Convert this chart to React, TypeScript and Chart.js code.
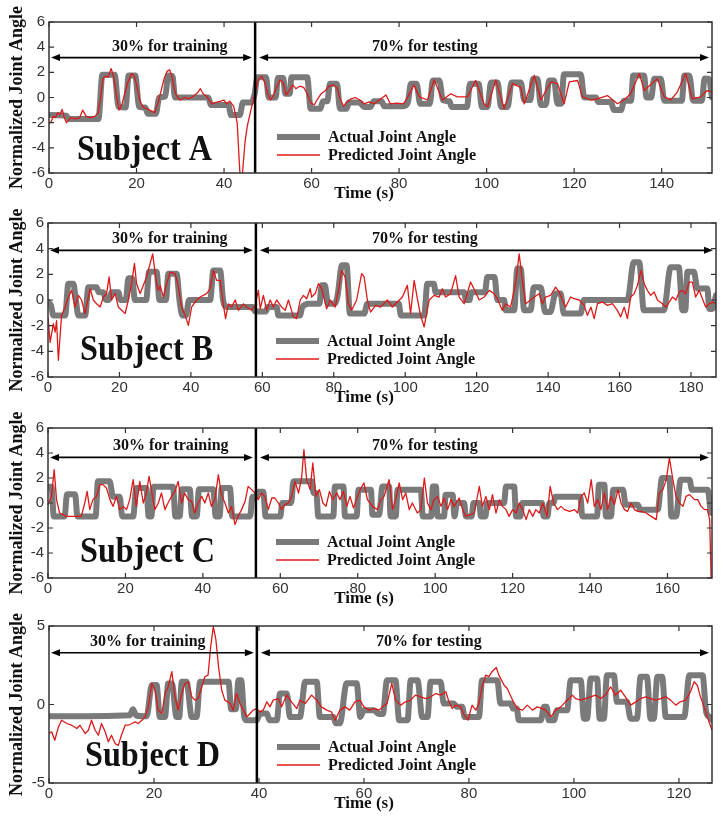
import React, { useEffect, useRef } from "react";
import { Chart, registerables } from "chart.js";

Chart.register(...registerables);

type Pt = [number, number];

const SERIES_LABELS = ["Actual Joint Angle", "Predicted Joint Angle"];
const TRAIN_TEXT = "30% for training";
const TEST_TEXT = "70% for testing";
const X_TITLE = "Time (s)";
const Y_TITLE = "Normalized Joint Angle";
const SUBJECTS = ["Subject A", "Subject B", "Subject C", "Subject D"];

const xTicksA = [0, 20, 40, 60, 80, 100, 120, 140];
const xTicksB = [0, 20, 40, 60, 80, 100, 120, 140, 160, 180];
const xTicksC = [0, 20, 40, 60, 80, 100, 120, 140, 160];
const xTicksD = [0, 20, 40, 60, 80, 100, 120];
const yTicks6 = [-6, -4, -2, 0, 2, 4, 6];
const yTicks5 = [-5, 0, 5];

const timeMax = [151.5, 187, 171.5, 126.3];
const splitTimes = [47.1, 58.2, 53.7, 39.6];
const arrowLevels = [3.17, 3.87, 3.65, 3.3];
const yRanges: Pt[] = [[-6, 6], [-6, 6], [-6, 6], [-5, 5]];

const aActual: Pt[] = [[0,-1.4],[4,-1.45],[4.5,-1.7],[11.3,-1.7],[12.2,1.8],[15,1.8],[15.9,-0.75],[17.5,-0.8],[18.2,1.75],[19.7,1.75],[20.6,-0.75],[22,-0.8],[22.6,-1.3],[24.4,-1.3],[25.2,0],[26.6,0.1],[27.2,1.75],[28.2,1.7],[28.8,0],[36.4,0],[37,-0.6],[41,-0.6],[41.6,-1.4],[43.6,-1.4],[44.3,-0.4],[46.2,-0.4],[47,0.3],[47.6,1.6],[49.6,1.6],[50.2,0],[51.8,0],[52.3,1.55],[53.5,1.55],[54,0.3],[55,0.3],[55.4,1.6],[59,1.6],[59.8,-0.9],[62,-0.9],[62.6,-0.3],[63.6,-0.3],[64.2,1.1],[65.8,1.1],[66.5,-0.9],[68,-0.9],[68.5,-0.4],[71,-0.4],[72,-0.75],[73.5,-0.75],[74.2,-0.3],[76,-0.3],[76.6,-0.7],[81,-0.7],[82,-0.4],[82.7,1.1],[84,1.1],[84.8,-0.5],[87,-0.5],[87.7,1.35],[89.2,1.35],[90,-0.2],[91.5,-0.3],[92,-0.75],[95.5,-0.75],[96.2,1.1],[98.2,1.1],[98.9,-0.75],[100.2,-0.75],[101,1.2],[102.5,1.2],[103.3,-0.75],[104.8,-0.75],[105.7,1.2],[107.8,1.2],[108.6,-0.2],[110,-0.2],[110.6,1.5],[111.6,1.5],[112.4,-0.6],[113.5,-0.6],[114.3,1.35],[115.4,1.35],[116.2,-0.5],[117,-0.5],[117.7,1.85],[121.5,1.85],[122.3,0],[125,0],[125.5,-0.35],[128.4,-0.35],[129.1,-1],[130.7,-1],[131.4,-0.25],[133,-0.25],[133.5,1.75],[136,1.75],[136.5,0],[137.6,0],[138.3,1.5],[139.8,1.5],[140.6,-0.25],[144.6,-0.25],[145.2,1.75],[146.3,1.75],[147.2,-0.25],[149.2,-0.25],[149.8,1.5],[150.8,1.5],[151.5,0]];

const aPredicted: Pt[] = [[0,-2.1],[0.5,-1.9],[1,-1.5],[1.5,-1.6],[2,-1.2],[2.5,-1.35],[3,-0.95],[3.5,-1.6],[4,-2.0],[4.5,-1.8],[5,-1.6],[6,-1.7],[7,-1.6],[7.7,-1.0],[8.5,-1.5],[9.5,-1.6],[10.5,-1.5],[11.2,-1.2],[11.8,0],[12.3,1.5],[13,1.7],[13.5,1.6],[14.2,2.3],[14.8,1.6],[15.4,0.2],[16,-1.0],[16.6,-0.6],[17.3,0.3],[18,1.2],[18.9,1.9],[19.5,1.7],[20,1.0],[20.8,-0.3],[21.6,-0.8],[22.5,-0.9],[23.5,-1.1],[24.2,-1.2],[25,-0.3],[25.6,0.5],[26.3,1.5],[27,2.1],[27.6,2.2],[28.2,1.5],[28.8,0.4],[29.4,0],[30,-0.2],[31,0],[32,-0.1],[33,0.1],[34,0.4],[34.6,0.7],[35.2,0.3],[36,0.1],[36.6,-0.2],[37.2,-0.5],[38,-0.4],[39,-0.3],[40,-0.2],[40.6,-0.5],[41.3,-0.3],[42.2,-0.7],[43,-2.0],[43.7,-6.5],[44.1,-6.5],[44.8,-3.5],[45.3,-2.3],[46,-1.2],[46.6,-0.3],[47.2,0.5],[47.8,1.4],[48.6,1.7],[49.3,1.2],[50,0.3],[50.6,-0.2],[51.2,0.1],[52,0.8],[52.8,1.4],[53.5,1.2],[54.2,0.2],[55,0.6],[55.7,1.0],[56.4,0.7],[57.3,0.9],[58.2,0.8],[59,0.3],[59.8,-0.4],[60.6,-0.6],[61.4,-0.1],[62.2,0.3],[63,0.5],[64,0.9],[65,1.0],[65.8,0.8],[66.5,-0.1],[67.3,-0.7],[68,-0.4],[69,-0.1],[70,0],[71,-0.2],[72,-0.5],[73.2,-0.35],[74.3,-0.5],[75.5,-0.2],[77,0.2],[78,-0.5],[79.5,-0.45],[81,-0.5],[82,0.05],[83.4,1.0],[84.6,0.05],[86.5,-0.2],[88,1.4],[89.9,-0.2],[91.8,0.3],[93.3,0.05],[95.6,0.05],[96.4,0.6],[97.5,1.35],[99.4,-0.5],[100.2,-0.75],[102.1,1.4],[104,-0.9],[105.9,1.1],[107.8,0.8],[108.6,-0.5],[110.9,1.75],[112.4,-0.2],[114.7,1.25],[116.2,1.1],[117.7,-0.5],[118.9,1.25],[120.8,1.35],[121.9,0.05],[123.8,-0.2],[125.3,-0.1],[127.6,0.15],[129.9,-0.5],[131.4,-0.2],[132.9,0.3],[134.9,1.9],[136,0.55],[139,1.5],[140.6,0.05],[142.1,-0.2],[143.6,0.45],[145.5,1.9],[147,-0.1],[148.9,0.05],[150.4,0.55],[151.5,0.45]];

const bActual: Pt[] = [[0,-0.15],[0.8,-0.4],[1.5,-1.2],[4.8,-1.2],[5.7,1.27],[7.1,1.27],[7.8,0],[8.5,-1.2],[10.4,-1.2],[11.3,1.0],[13.6,1.0],[14.2,0.6],[15.5,0.6],[16.2,0],[17,0],[17.8,0.6],[19.7,0.6],[20.3,0],[21.8,0],[22.5,1.7],[23.6,1.7],[24.3,0],[27.5,0],[28.3,2.2],[30.4,2.2],[31.2,0],[33,0],[33.7,2.05],[36,2.05],[36.8,0],[37.6,-1.2],[38.6,-1.2],[39.5,0],[45.4,0],[46.3,2.3],[48.2,2.3],[49,0],[50,-0.55],[57.3,-0.55],[58,-0.9],[61,-0.9],[61.5,-0.55],[64,-0.55],[64.5,-1.2],[70.5,-1.2],[71.2,-0.55],[73,-0.3],[76,-0.3],[76.6,1.15],[77.5,1.15],[78.4,-0.3],[80.2,-0.3],[81,0.23],[82.3,2.7],[83.6,2.7],[84.5,-1.06],[88.5,-1.06],[89.4,-0.3],[98.2,-0.3],[98.8,-1.2],[105.3,-1.2],[106.2,1.27],[108,1.27],[108.5,0.6],[116.5,0.6],[117,0],[118,0],[118.5,0.6],[122.3,0.6],[123,1.8],[125,1.8],[125.8,0],[127.7,0],[128.1,-0.8],[130.5,-0.8],[131.4,2.45],[132.3,2.45],[133.3,-0.8],[135.1,-0.8],[136,1.0],[137.9,1.0],[139.2,-0.94],[140.6,-0.94],[142.1,0.5],[143.5,0.5],[144.4,-1.06],[149.1,-1.06],[150,0],[162.2,0],[164,2.95],[165.5,2.95],[166.8,-0.8],[172.4,-0.8],[174.3,2.55],[176.6,2.55],[177.6,-0.8],[178.4,-0.8],[179,2.2],[180.8,2.2],[181.8,0.9],[184.6,0.9],[185.1,-0.7],[186,-0.7],[187,0.36]];

const bPredicted: Pt[] = [[0,-1.3],[0.6,-3.3],[1.5,-1.85],[2,-2.5],[2.4,-1.6],[2.9,-4.7],[3.8,-1.2],[4.8,-0.55],[5.7,0.23],[6.6,0.75],[7.6,-0.55],[8.5,0.36],[9.4,0],[10.4,-1.06],[11.3,0.23],[11.8,0.88],[12.7,0],[13.6,-0.3],[14.6,-0.55],[15.5,0.23],[16.4,0.5],[17.1,1.8],[17.8,0],[18.8,0.5],[19.7,-0.55],[20.6,-0.8],[21.6,-1.06],[22.5,0],[23.4,1.27],[24.2,2.85],[24.8,1.27],[25.8,0.5],[27.6,1.8],[29.3,3.6],[30.4,1.27],[30.9,0.75],[31.4,1.14],[32.3,0.23],[33.2,1.27],[34.2,2.18],[35.6,2.05],[36.5,1.0],[37.4,-0.55],[38.4,-1.2],[39.3,-1.97],[40.2,-0.55],[41.6,0],[42.6,0.23],[44.4,0.5],[45.4,0.88],[46.3,2.3],[47.2,1.53],[48.2,1.53],[48.9,0],[49.7,-1.45],[50.5,-0.3],[51.4,-0.55],[52.4,0],[53.3,-0.8],[54.7,-0.3],[55.6,-0.55],[57,-0.8],[58,-0.4],[58.9,0.75],[59.4,-0.68],[60.3,0.36],[61.2,-0.8],[62.2,0],[63.1,-0.55],[64,0],[65.4,-0.55],[66.4,-0.8],[67.3,0],[68.7,-1.3],[69.6,-1.45],[70.6,0],[71.5,0.36],[72.4,0.1],[73.4,0.88],[73.8,0.23],[74.8,0.5],[75.7,1.27],[76.6,0.88],[78,-0.68],[79,0],[80.4,-0.55],[81.3,0.75],[82.2,2.3],[83.2,1.8],[84.1,-0.3],[85,-0.8],[86.4,0],[87.8,2.05],[88.5,1.8],[89.4,0],[90.3,-0.94],[91.7,-0.42],[93.1,-0.55],[95,0],[96.4,-0.55],[97.8,-0.16],[99.2,0.23],[100.6,1.14],[101.5,-1.06],[102.5,1.53],[103.4,0.1],[104.3,-1.19],[105.3,-2.1],[106.7,0],[108.1,0.36],[109.5,0.23],[110.4,0.88],[111.3,0.23],[112.7,0.49],[114.1,1.9],[115.1,0.23],[116.5,-0.29],[118.3,1.4],[119.7,0.62],[120.7,0],[122.1,0.23],[123.5,0.75],[124.9,0.49],[125.8,0.1],[127.2,-0.81],[128.1,-0.29],[129.5,-0.55],[130.9,1.27],[131.9,3.6],[132.8,1.53],[133.7,-0.29],[135.1,0],[136.1,0.23],[137.5,0.49],[138.4,-0.29],[139.3,0.23],[140.7,0.36],[142.1,1.0],[143.1,0.62],[144,0],[144.9,-0.55],[146.3,0.23],[147.3,0.1],[148.7,0],[150.1,-0.42],[151,-1.19],[152,-0.55],[152.9,-1.45],[153.8,-0.29],[155.2,-0.16],[156.6,-0.42],[158,-0.29],[159.4,-0.81],[160.3,-1.32],[161.3,-0.55],[162.2,-1.45],[163.1,0.23],[164.1,0.49],[165,1.14],[166,2.31],[166.9,1.27],[167.8,0.75],[168.7,0.36],[169.7,0.62],[170.6,0],[172,-0.29],[173,-0.55],[173.9,-0.16],[174.8,0.23],[175.8,0],[176.7,0.62],[177.6,0.75],[178.5,0.49],[179.5,1.4],[180.4,1.4],[181.3,0.23],[182.3,0.75],[183.2,0.1],[184.1,-0.55],[185.1,-0.29],[186,-0.16],[187,-0.29]];

const cActual: Pt[] = [[0,1.3],[0.9,1.3],[1.5,-1.07],[4.3,-1.07],[4.9,0.7],[7,0.7],[7.6,-1.07],[12.3,-1.07],[12.9,1.75],[15.9,1.75],[16.8,0.5],[18.5,0.5],[19.2,-1.07],[22,-1.07],[22.8,1.2],[25.4,1.2],[26,-1.07],[26.7,-1.07],[27.3,1.3],[32.3,1.3],[32.9,-1.07],[34,-1.07],[34.6,1.1],[36.6,1.1],[37.2,-1.07],[38.4,-1.07],[39,1.1],[42.7,1.1],[43.3,-1.07],[44.3,-1.07],[44.9,1.2],[47,1.2],[47.6,-1.07],[52.2,-1.07],[52.8,0.5],[53.6,0.5],[54.3,0.9],[55.6,0.9],[56.2,-1.07],[60,-1.07],[60.5,0],[62.8,0],[63.4,1.75],[68.1,1.75],[68.6,0.8],[69.3,0.8],[69.8,-1.07],[73.7,-1.07],[74.1,1.33],[76.3,1.33],[76.7,-1.07],[79.7,-1.07],[80.2,1.07],[83.4,1.07],[83.8,-0.93],[85.5,-0.93],[86.4,1.33],[88.1,1.33],[88.5,-1.07],[89.8,-1.07],[90.3,1.07],[96.3,1.07],[96.8,-1.07],[99,-1.07],[99.4,1.33],[100.2,1.33],[100.6,-1.07],[102.3,-1.07],[102.7,0.67],[104.5,0.67],[105,-1.07],[105.6,0],[107.5,0],[107.9,-1.07],[109.4,-1.07],[109.9,0],[111.4,0],[111.8,-1.07],[113,-1.07],[113.4,0],[117.8,0],[118.3,1.33],[120.4,1.33],[120.9,-1.07],[122,-1.07],[122.5,0],[127.6,0],[128,-1.07],[129,-1.07],[129.5,0],[130.6,0],[131,0.5],[137.5,0.5],[138,-1.07],[141.8,-1.07],[142.3,1.47],[143.7,1.47],[144.1,-1.07],[145.4,-1.07],[146,1.07],[148.5,1.07],[149.2,-0.13],[152.3,-0.13],[153,-0.53],[157.5,-0.53],[158.6,2.0],[160.5,2.0],[161,-1.07],[162.2,-1.07],[163.4,1.87],[165.7,1.87],[166.3,1.07],[170.4,1.07],[171.3,-0.8],[171.6,-0.8]];

const cPredicted: Pt[] = [[0,-0.13],[0.9,0.53],[1.6,2.67],[2.2,0.27],[3,-0.8],[3.9,-0.93],[4.7,-1.07],[7.3,-1.07],[8.6,-1.07],[9.5,0],[10.1,0.93],[10.8,-0.53],[11.6,0.27],[12.5,0.53],[13.4,1.47],[14.2,1.47],[15.1,1.2],[16,0.27],[16.8,-0.27],[17.7,0.53],[18.5,-0.53],[19.4,-0.27],[20.3,-0.53],[21.1,0.27],[22,1.87],[22.8,-0.27],[23.7,1.73],[24.6,0],[25.4,0.8],[26.1,2.13],[26.7,1.07],[27.6,-0.53],[28.5,0],[29.3,0.8],[30.2,-0.53],[31,0],[31.9,0.53],[32.8,0.93],[33.6,1.73],[34.5,0],[35.3,0.8],[36.2,0.27],[37.1,0.13],[37.9,-0.8],[38.8,0],[39.7,0.53],[40.5,0],[41.4,0.8],[42.2,-0.27],[43.1,0.27],[44,2.27],[44.8,0.67],[45.7,0],[46.6,-0.8],[47.4,-0.27],[48.3,-1.73],[49.1,-1.07],[50,-0.53],[50.9,0.13],[51.7,1.33],[52.6,1.07],[53.5,0.8],[54.3,0.27],[55.2,0.8],[56,0.53],[56.9,-0.53],[57.8,0.4],[58.6,0.4],[59.5,0],[60.3,-0.53],[61.2,-0.13],[62.1,0],[62.9,0.53],[63.8,1.73],[64.7,0.8],[65.5,2.0],[66.1,4.27],[66.8,1.87],[67.7,1.07],[68.4,3.2],[69.2,0.53],[70.1,1.07],[71,0],[71.8,-0.27],[72.7,0.93],[73.5,0.27],[74.6,0.8],[75.4,0.27],[76.3,0.93],[77.2,-0.27],[78,0.53],[78.9,-0.4],[79.7,0.27],[80.6,1.07],[81.6,1.6],[82.5,0.27],[83.8,-0.27],[85.1,-0.53],[86,0.27],[86.8,0.53],[88.1,1.87],[89,-0.53],[89.8,0.27],[90.7,1.6],[91.6,0.27],[92.4,0.8],[93.3,-0.53],[94.1,0],[95.4,-0.8],[96.3,-0.53],[97.2,2.0],[98,0],[98.9,-0.53],[99.7,0.27],[100.6,0.53],[101.5,-0.27],[102.3,0.4],[103.2,-0.53],[104.1,0.27],[104.9,-0.27],[106.2,0.4],[107.1,-0.53],[107.9,-1.07],[109.2,-0.93],[110.1,-0.8],[111.4,1.33],[112.2,-0.27],[113.1,0.53],[114,-0.53],[114.8,0.67],[115.7,-0.8],[116.6,0.27],[117.4,-0.27],[118.3,-0.53],[119.1,-1.07],[120,-0.53],[120.9,-0.8],[121.7,0],[122.6,-0.53],[123.5,-1.33],[124.3,-0.53],[125.2,-1.07],[126,-0.53],[126.9,-0.8],[127.8,0],[128.9,-1.07],[129.7,1.33],[130.6,0],[131.6,-0.53],[132.5,-0.27],[133.4,-0.53],[134.7,-0.67],[136,-0.53],[136.8,-0.8],[137.7,0.53],[138.5,0.8],[139.4,0],[140.3,1.87],[141.1,-0.27],[142,0.27],[142.8,-0.53],[143.7,0.8],[144.6,-0.53],[145.4,0.53],[146.3,-0.13],[147.2,1.07],[148,0],[148.9,-0.53],[149.7,-0.67],[150.6,0],[151.5,-0.53],[152.3,-0.67],[153.2,-0.67],[154.5,-0.8],[155.8,-1.07],[157.1,-1.33],[157.9,0.8],[158.8,1.07],[159.7,1.87],[160.5,3.6],[161.4,1.87],[162.2,0.53],[163.1,0],[164,-0.27],[164.8,0.53],[165.7,0.67],[167,0.27],[167.8,0.27],[168.7,-0.27],[169.6,-0.53],[170.3,-0.53],[170.9,-1.33],[171.3,-6.5]];

const dActual: Pt[] = [[0,-0.75],[15.4,-0.68],[16,-0.3],[16.6,-0.7],[18.6,-0.75],[19.6,1.25],[20.5,1.25],[21.1,-0.8],[22.1,-0.8],[22.7,1.34],[23.4,1.34],[24.3,-0.8],[24.8,-0.8],[25.3,1.45],[26.2,1.45],[27.2,-0.8],[28.1,-0.8],[28.8,1.45],[34.2,1.45],[34.7,-0.3],[35.6,-0.3],[36.1,1.55],[36.6,1.55],[37.2,-0.8],[37.6,-1.0],[39.6,-1.0],[40.2,-0.57],[41.5,-0.57],[42,-1.0],[43.4,-1.0],[44,0.7],[45.3,0.7],[45.9,-0.8],[47.8,-0.8],[48.8,1.45],[51,1.45],[51.6,-0.8],[54.2,-0.8],[54.6,-1.2],[55.4,-1.2],[56.7,1.35],[58.6,1.35],[59.3,-0.8],[60,-0.36],[61.9,-0.36],[62.8,-0.6],[63.6,-0.6],[64.4,1.55],[66,1.55],[66.7,-1.0],[68.3,-1.0],[68.9,1.55],[70.2,1.55],[71.1,-0.8],[72.1,-0.8],[72.7,1.45],[74.6,1.45],[75.2,0.06],[77.1,0.06],[77.7,-0.15],[78.7,-0.15],[79.2,-0.8],[81.9,-0.8],[82.5,1.55],[85.4,1.55],[86,0.06],[88,0.06],[88.4,-0.26],[89.1,-0.26],[89.5,-1.0],[93.7,-1.0],[94.3,-0.15],[94.8,-0.15],[95.2,-1.0],[96.2,-1.0],[96.8,-0.36],[98.7,-0.36],[99.4,1.55],[101.3,1.55],[101.9,-0.9],[102.5,-0.9],[103.2,1.66],[104.4,1.66],[104.9,-0.9],[105.7,-0.9],[106.3,1.87],[107.6,1.87],[108.2,0.17],[110.1,0.17],[110.8,-0.9],[112,-0.9],[112.7,1.77],[113.9,1.77],[114.6,-0.9],[115.2,-0.9],[115.9,1.77],[116.8,1.77],[117.5,-0.8],[121,-0.8],[122,1.87],[124.5,1.87],[125.2,-0.5],[125.9,-0.8],[126.3,-1.0]];

const dPredicted: Pt[] = [[0,-1.85],[0.5,-1.74],[1.1,-2.28],[1.8,-1.43],[2.4,-1.0],[3.4,-1.21],[4.3,-1.32],[5.3,-1.53],[5.9,-1.32],[6.9,-1.85],[7.5,-1.64],[8.1,-1.0],[8.8,-1.64],[9.4,-1.96],[10,-1.21],[10.7,-1.74],[11.3,-2.38],[11.9,-1.96],[12.6,-2.49],[13.2,-2.6],[13.8,-1.96],[14.5,-1.32],[15.1,-1.32],[15.8,-1.21],[16.4,-1.11],[17,-1.21],[17.7,-1.0],[18.3,-0.79],[18.9,-0.15],[19.6,1.34],[20.2,0.91],[20.8,-0.36],[21.5,-0.57],[22.1,0.7],[22.7,1.13],[23.4,2.09],[24,0.49],[24.6,-0.36],[25.3,0.7],[25.9,1.34],[26.5,1.45],[27.2,0.49],[27.8,0.28],[28.4,0.38],[29.1,1.13],[29.7,1.77],[30.3,1.87],[30.8,3.68],[31.3,4.96],[31.8,4.11],[32.3,2.4],[32.9,0.91],[33.5,0.28],[34.5,0.06],[35.1,-0.36],[35.7,0.7],[36.4,0.06],[37,-0.36],[37.7,-0.79],[38.3,-0.57],[38.9,-0.36],[39.6,-0.26],[40.2,-0.47],[40.8,-0.36],[41.5,0.17],[42.1,-0.15],[42.7,0.28],[43.7,0.38],[44.3,-0.15],[45.3,0.6],[46.2,0.17],[47.2,-0.26],[47.8,0.28],[48.8,0.06],[50,0.6],[51,0.28],[51.9,-0.15],[52.9,-0.36],[53.8,-0.47],[54.5,-1.0],[55.4,-0.36],[56.4,-0.15],[57.3,-0.36],[58.3,0.17],[59.2,0.28],[60,-0.15],[61,-0.36],[61.9,-0.26],[62.9,-0.36],[63.5,-0.15],[64.4,0.06],[65.3,1.34],[66,0.28],[67,-0.04],[67.9,0.17],[68.9,0.28],[69.8,0.6],[70.8,0.49],[71.8,0.38],[72.7,0.49],[73.7,0.7],[74.6,0.6],[75.6,0.81],[76.2,0.17],[76.8,-0.26],[77.5,-0.04],[78.4,-0.15],[79.1,-0.68],[79.8,-1.0],[80.6,-0.04],[81.3,-0.36],[81.9,0.06],[82.5,1.13],[83.2,1.87],[83.8,1.77],[84.4,2.09],[85.2,2.36],[85.7,1.87],[86.7,1.23],[87.3,1.02],[88.3,0.28],[89.2,-0.26],[90.2,-0.36],[91.1,-0.04],[92.1,-0.36],[93,-0.15],[94,-0.26],[94.6,-0.36],[95.6,-0.79],[96.5,-0.36],[97.5,-0.15],[98.4,0.17],[99.1,0.38],[99.7,0.6],[100.3,0.38],[101.3,0.28],[102.2,0.38],[103.2,0.49],[104.1,0.6],[105.1,0.38],[106,0.6],[107,1.13],[107.9,0.6],[108.9,0.91],[109.8,0.49],[110.8,-0.04],[111.8,0.17],[112.7,0.38],[113.7,0.49],[114.6,0.38],[115.6,0.28],[116.5,0.38],[117.5,0.49],[118.4,0.28],[119.4,-0.04],[120.3,0.17],[121.3,0.28],[122.2,0.81],[122.9,1.45],[123.5,1.23],[124.1,0.49],[124.8,-0.15],[125.4,-0.79],[126.3,-1.64]];

const actualSeries = [aActual, bActual, cActual, dActual];
const predictedSeries = [aPredicted, bPredicted, cPredicted, dPredicted];
const xTickSets = [xTicksA, xTicksB, xTicksC, xTicksD];
const yTickSets = [yTicks6, yTicks6, yTicks6, yTicks5];

const GRAY = "#7a7a7a";
const RED = "#dc1a1a";
const INK = "#111111";
const FRAME = "#333333";
const SERIF = '"Liberation Serif", "Times New Roman", serif';
const SANS = '"Liberation Sans", Arial, sans-serif';

// page layout of each panel's plotting area (pixels)
const layouts = [
  { left: 49, right: 712, top: 22, bottom: 173, trainDx: 63, testDx: 323, subjDx: 28, subjDy: 13 },
  { left: 48, right: 716, top: 223, bottom: 377, trainDx: 64, testDx: 324, subjDx: 32, subjDy: 17 },
  { left: 48, right: 712, top: 428, bottom: 578, trainDx: 65, testDx: 324, subjDx: 32, subjDy: 16 },
  { left: 49, right: 712, top: 626, bottom: 783, trainDx: 41, testDx: 327, subjDx: 36, subjDy: 17 },
];
const PAD_TOP = 24;
const XAXIS_H = 36;
const PAGE_W = 728;

function doubleArrow(ctx: CanvasRenderingContext2D, x1: number, x2: number, y: number) {
  const hl = 9, hw = 3.5;
  ctx.beginPath();
  ctx.moveTo(x1 + hl - 1, y);
  ctx.lineTo(x2 - hl + 1, y);
  ctx.stroke();
  ctx.beginPath();
  ctx.moveTo(x1, y);
  ctx.lineTo(x1 + hl, y - hw);
  ctx.lineTo(x1 + hl, y + hw);
  ctx.closePath();
  ctx.fill();
  ctx.beginPath();
  ctx.moveTo(x2, y);
  ctx.lineTo(x2 - hl, y - hw);
  ctx.lineTo(x2 - hl, y + hw);
  ctx.closePath();
  ctx.fill();
}

const decorPlugin = {
  id: "decor",
  afterDatasetsDraw(chart: any, _args: any, opts: any) {
    const { ctx, chartArea: ca, scales } = chart;
    const xs = scales.x;
    const ys = scales.y;
    ctx.save();

    // split line
    const sx = xs.getPixelForValue(opts.split);
    ctx.strokeStyle = "#000";
    ctx.lineWidth = 2.5;
    ctx.beginPath();
    ctx.moveTo(sx, ca.top);
    ctx.lineTo(sx, ca.bottom);
    ctx.stroke();

    // arrows
    const ay = ys.getPixelForValue(opts.arrowAt);
    ctx.strokeStyle = "#000";
    ctx.fillStyle = "#000";
    ctx.lineWidth = 1.6;
    doubleArrow(ctx, ca.left + 2, sx - 3, ay);
    doubleArrow(ctx, sx + 4, ca.right - 3, ay);

    // arrow labels
    ctx.fillStyle = INK;
    ctx.font = `bold 16px ${SERIF}`;
    ctx.textAlign = "left";
    ctx.textBaseline = "alphabetic";
    ctx.fillText(TRAIN_TEXT, ca.left + opts.trainDx, ay - 7);
    ctx.fillText(TEST_TEXT, ca.left + opts.testDx, ay - 7);

    // subject name
    ctx.save();
    ctx.font = `bold 35px ${SERIF}`;
    ctx.translate(ca.left + opts.subjDx, ca.bottom - opts.subjDy);
    ctx.scale(0.92, 1);
    ctx.fillText(opts.subject, 0, 0);
    ctx.restore();

    // legend
    const lx = ca.left + 228;
    chart.data.datasets.forEach((ds: any, i: number) => {
      const ly = ca.bottom - 36 + i * 18;
      ctx.strokeStyle = ds.borderColor;
      ctx.lineWidth = i === 0 ? 6 : 1.6;
      ctx.lineCap = "butt";
      ctx.beginPath();
      ctx.moveTo(lx, ly);
      ctx.lineTo(lx + 43, ly);
      ctx.stroke();
      ctx.fillStyle = INK;
      ctx.font = `bold 16px ${SERIF}`;
      ctx.textBaseline = "middle";
      ctx.fillText(ds.label, lx + 51, ly + 1);
    });

    // frame
    ctx.strokeStyle = FRAME;
    ctx.lineWidth = 1.5;
    ctx.strokeRect(ca.left, ca.top, ca.right - ca.left, ca.bottom - ca.top);

    // inward ticks on all sides
    ctx.lineWidth = 1.2;
    const tl = 5;
    xs.ticks.forEach((t: any) => {
      const px = xs.getPixelForValue(t.value);
      ctx.beginPath();
      ctx.moveTo(px, ca.bottom);
      ctx.lineTo(px, ca.bottom - tl);
      ctx.moveTo(px, ca.top);
      ctx.lineTo(px, ca.top + tl);
      ctx.stroke();
    });
    ys.ticks.forEach((t: any) => {
      const py = ys.getPixelForValue(t.value);
      ctx.beginPath();
      ctx.moveTo(ca.left, py);
      ctx.lineTo(ca.left + tl, py);
      ctx.moveTo(ca.right, py);
      ctx.lineTo(ca.right - tl, py);
      ctx.stroke();
    });

    // x axis title
    ctx.fillStyle = INK;
    ctx.font = `bold 17px ${SERIF}`;
    ctx.textAlign = "center";
    ctx.textBaseline = "middle";
    ctx.fillText(X_TITLE, PAGE_W / 2, ca.bottom + 21);

    ctx.restore();
  },
};

function Panel({ idx }: { idx: number }) {
  const ref = useRef<HTMLCanvasElement>(null);
  const L = layouts[idx];
  const canvasTop = L.top - PAD_TOP;
  const canvasH = L.bottom - canvasTop + XAXIS_H;

  useEffect(() => {
    if (!ref.current) return;
    const xTicks = xTickSets[idx];
    const yTicks = yTickSets[idx];
    const chart = new Chart(ref.current, {
      type: "line",
      data: {
        datasets: [
          {
            label: SERIES_LABELS[0],
            data: actualSeries[idx].map(([x, y]) => ({ x, y })),
            borderColor: GRAY,
            borderWidth: 6,
            pointRadius: 0,
            tension: 0.4,
            cubicInterpolationMode: "monotone",
            borderJoinStyle: "round",
            borderCapStyle: "round",
            order: 2,
            clip: 0,
          } as any,
          {
            label: SERIES_LABELS[1],
            data: predictedSeries[idx].map(([x, y]) => ({ x, y })),
            borderColor: RED,
            borderWidth: 1.3,
            pointRadius: 0,
            tension: 0,
            borderJoinStyle: "round",
            order: 1,
            clip: 0,
          } as any,
        ],
      },
      options: {
        animation: false,
        responsive: false,
        devicePixelRatio: 1,
        events: [],
        layout: { padding: { top: PAD_TOP, left: 0, right: PAGE_W - L.right, bottom: 0 } },
        plugins: {
          legend: { display: false },
          tooltip: { enabled: false },
          decor: {
            split: splitTimes[idx],
            arrowAt: arrowLevels[idx],
            subject: SUBJECTS[idx],
            trainDx: L.trainDx,
            testDx: L.testDx,
            subjDx: L.subjDx,
            subjDy: L.subjDy,
          },
        } as any,
        scales: {
          x: {
            type: "linear",
            min: 0,
            max: timeMax[idx],
            grid: { display: false, drawTicks: false },
            border: { display: false },
            afterFit: (s: any) => {
              s.height = XAXIS_H;
            },
            afterBuildTicks: (s: any) => {
              s.ticks = xTicks.map((v) => ({ value: v }));
            },
            ticks: {
              font: { family: SANS, size: 15 },
              color: "#333",
              padding: 2,
              maxRotation: 0,
              autoSkip: false,
            },
          },
          y: {
            type: "linear",
            min: yRanges[idx][0],
            max: yRanges[idx][1],
            grid: { display: false, drawTicks: false },
            border: { display: false },
            afterFit: (s: any) => {
              s.width = L.left;
            },
            afterBuildTicks: (s: any) => {
              s.ticks = yTicks.map((v) => ({ value: v }));
            },
            ticks: {
              font: { family: SANS, size: 15 },
              color: "#333",
              padding: 4,
              autoSkip: false,
            },
            title: {
              display: true,
              text: Y_TITLE,
              color: INK,
              font: { family: SERIF, size: 18, weight: "bold" },
              padding: { top: 7, bottom: 0 },
            },
          },
        },
      } as any,
      plugins: [decorPlugin],
    });
    return () => chart.destroy();
  }, [idx]);

  return (
    <canvas
      ref={ref}
      width={PAGE_W}
      height={canvasH}
      style={{ position: "absolute", left: 0, top: canvasTop, width: PAGE_W, height: canvasH }}
    />
  );
}

export default function App() {
  return (
    <div style={{ position: "absolute", left: 0, top: 0, width: PAGE_W, height: 826, background: "#fff" }}>
      {[0, 1, 2, 3].map((i) => (
        <Panel key={i} idx={i} />
      ))}
    </div>
  );
}
